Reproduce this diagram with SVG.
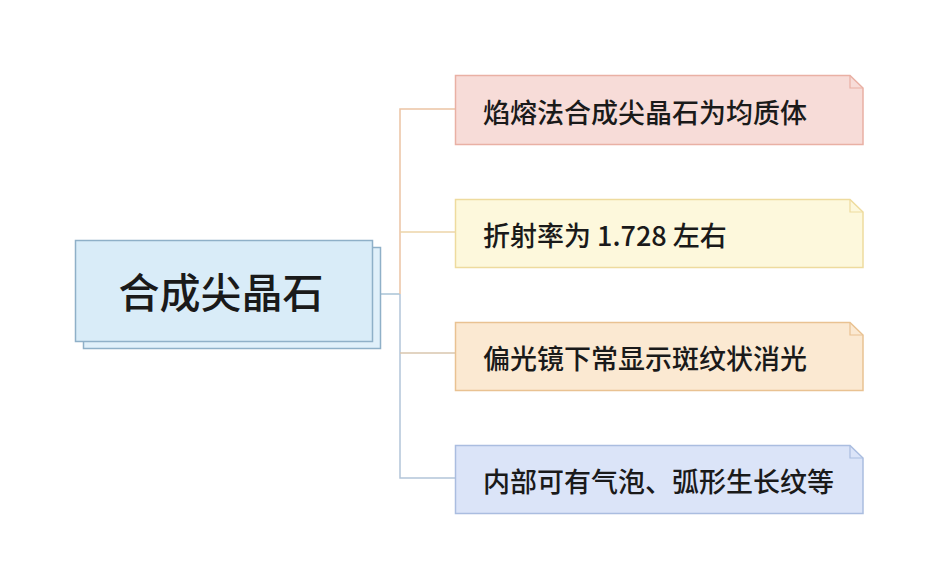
<svg xmlns="http://www.w3.org/2000/svg" width="938" height="587" viewBox="0 0 938 587">
<style>
.t{font-family:"Noto Sans CJK SC","Noto Sans",sans-serif;fill:#1a1a1a;font-weight:500}
.c{fill:none;stroke-width:1.5}
.f{fill:none;stroke-width:1.2}
</style>
<rect width="938" height="587" fill="#ffffff"/>
<g id="connectors">
<path class="c" d="M381 294 H400" stroke="#a9c3d6"/>
<path class="c" d="M400 294 V109 H455" stroke="#ecc3a4"/>
<path class="c" d="M400 232 H455" stroke="#ecd4a8"/>
<path class="c" d="M400 294 V478 H455" stroke="#b3c5d9"/>
<path class="c" d="M400 353 H455" stroke="#d8c6ae"/>
</g>
<g id="root">
<rect x="83.5" y="247.5" width="297" height="101" fill="#e0f0fa" stroke="#8fb0c8" stroke-width="1.5"/>
<rect x="75.5" y="240.5" width="297" height="101" fill="#d9ecf8" stroke="#8fb0c8" stroke-width="1.5"/>
<text class="t" x="221" y="308" font-size="41" text-anchor="middle">合成尖晶石</text>
</g>
<g id="n1">
<path d="M455.5 75.5 H850 L863 88 V144.5 H455.5 Z" fill="#f7dcd8" stroke="#e9b0a4" stroke-width="1.5"/>
<path class="f" d="M850 75.5 V88 H863" stroke="#e9b0a4"/>
<text class="t" x="483" y="123" font-size="27">焰熔法合成尖晶石为均质体</text>
</g>
<g id="n2">
<path d="M455.5 199.5 H850 L863 212 V267.5 H455.5 Z" fill="#fdf8dc" stroke="#eedb9e" stroke-width="1.5"/>
<path class="f" d="M850 199.5 V212 H863" stroke="#eedb9e"/>
<text class="t" x="483" y="246" font-size="27">折射率为 1.728 左右</text>
</g>
<g id="n3">
<path d="M455.5 322.5 H850 L863 335 V390.5 H455.5 Z" fill="#fbe9d2" stroke="#e9c292" stroke-width="1.5"/>
<path class="f" d="M850 322.5 V335 H863" stroke="#e9c292"/>
<text class="t" x="483" y="369" font-size="27">偏光镜下常显示斑纹状消光</text>
</g>
<g id="n4">
<path d="M455.5 445.5 H850 L863 458 V513.5 H455.5 Z" fill="#dbe4f8" stroke="#aabde0" stroke-width="1.5"/>
<path class="f" d="M850 445.5 V458 H863" stroke="#aabde0"/>
<text class="t" x="483" y="492" font-size="27">内部可有气泡、弧形生长纹等</text>
</g>
</svg>
